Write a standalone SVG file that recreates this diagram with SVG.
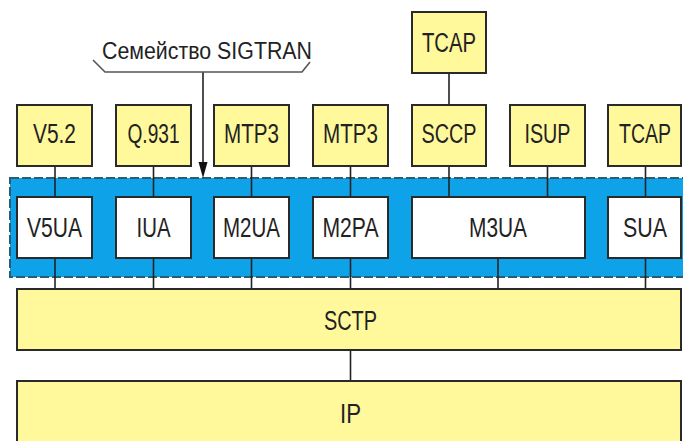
<svg xmlns="http://www.w3.org/2000/svg" width="683" height="441" viewBox="0 0 683 441">
  <style>
    .box { fill: #fff99c; stroke: #2a2a2a; stroke-width: 2; }
    .ua { fill: #ffffff; stroke: #2a2a2a; stroke-width: 2; }
    .lbl { font-family: "Liberation Sans", Arial, sans-serif; font-size: 27px; fill: #222; text-anchor: middle; }
    .title { font-family: "Liberation Sans", Arial, sans-serif; font-size: 23px; fill: #222; }
    .link { stroke: #222; stroke-width: 1.6; fill: none; }
    .brace { stroke: #555; stroke-width: 1.6; fill: none; }
    .head { fill: #111; }
  </style>

  <rect width="683" height="441" fill="#ffffff"/>

  <!-- SIGTRAN band -->
  <g id="sigtran-band">
    <rect x="10" y="178" width="690" height="99" fill="#0ea2e8" stroke="#2d5b70" stroke-width="2" stroke-dasharray="9 3"/>
  </g>

  <!-- connectors -->
  <g id="connectors">
    <line class="link" x1="449" y1="73" x2="449" y2="105"/>
    <line class="link" x1="55" y1="166" x2="55" y2="197"/>
    <line class="link" x1="153.5" y1="166" x2="153.5" y2="197"/>
    <line class="link" x1="251.5" y1="166" x2="251.5" y2="197"/>
    <line class="link" x1="350.5" y1="166" x2="350.5" y2="197"/>
    <line class="link" x1="449" y1="166" x2="449" y2="197"/>
    <line class="link" x1="547.5" y1="166" x2="547.5" y2="197"/>
    <line class="link" x1="645.5" y1="166" x2="645.5" y2="197"/>
    <line class="link" x1="55" y1="258" x2="55" y2="289"/>
    <line class="link" x1="153.5" y1="258" x2="153.5" y2="289"/>
    <line class="link" x1="251.5" y1="258" x2="251.5" y2="289"/>
    <line class="link" x1="350.5" y1="258" x2="350.5" y2="289"/>
    <line class="link" x1="498" y1="258" x2="498" y2="289"/>
    <line class="link" x1="645.5" y1="258" x2="645.5" y2="289"/>
    <line class="link" x1="350.5" y1="350" x2="350.5" y2="381"/>
    <!-- pointer from the family label into the band -->
    <line class="link" x1="203" y1="72" x2="203" y2="164"/>
    <polygon class="head" points="198.5,162 207.5,162 203,178"/>
  </g>

  <!-- family label with brace -->
  <g id="sigtran-label">
    <text class="title" x="102" y="59" textLength="210" lengthAdjust="spacingAndGlyphs">Семейство SIGTRAN</text>
    <polyline class="brace" points="93,60 105,72 302,72 310,62"/>
  </g>

  <!-- upper layer -->
  <g id="tcap-top"><rect class="box" x="412" y="12" width="74" height="61"/><text class="lbl" x="449" y="52" textLength="54" lengthAdjust="spacingAndGlyphs">TCAP</text></g>
  <g id="v52"><rect class="box" x="17" y="105" width="75" height="61"/><text class="lbl" x="54.5" y="143" textLength="43" lengthAdjust="spacingAndGlyphs">V5.2</text></g>
  <g id="q931"><rect class="box" x="116" y="105" width="75" height="61"/><text class="lbl" x="153.5" y="143" textLength="52" lengthAdjust="spacingAndGlyphs">Q.931</text></g>
  <g id="mtp3-a"><rect class="box" x="214" y="105" width="75" height="61"/><text class="lbl" x="251.5" y="143" textLength="55" lengthAdjust="spacingAndGlyphs">MTP3</text></g>
  <g id="mtp3-b"><rect class="box" x="313" y="105" width="75" height="61"/><text class="lbl" x="350.5" y="143" textLength="55" lengthAdjust="spacingAndGlyphs">MTP3</text></g>
  <g id="sccp"><rect class="box" x="412" y="105" width="74" height="61"/><text class="lbl" x="449" y="143" textLength="55" lengthAdjust="spacingAndGlyphs">SCCP</text></g>
  <g id="isup"><rect class="box" x="510" y="105" width="75" height="61"/><text class="lbl" x="547.5" y="143" textLength="46" lengthAdjust="spacingAndGlyphs">ISUP</text></g>
  <g id="tcap-right"><rect class="box" x="608" y="105" width="73" height="61"/><text class="lbl" x="645" y="143" textLength="52" lengthAdjust="spacingAndGlyphs">TCAP</text></g>

  <!-- adaptation layer -->
  <g id="v5ua"><rect class="ua" x="17" y="197" width="75" height="61"/><text class="lbl" x="54.5" y="237" textLength="55" lengthAdjust="spacingAndGlyphs">V5UA</text></g>
  <g id="iua"><rect class="ua" x="116" y="197" width="75" height="61"/><text class="lbl" x="153.5" y="237" textLength="34" lengthAdjust="spacingAndGlyphs">IUA</text></g>
  <g id="m2ua"><rect class="ua" x="214" y="197" width="75" height="61"/><text class="lbl" x="251.5" y="237" textLength="57" lengthAdjust="spacingAndGlyphs">M2UA</text></g>
  <g id="m2pa"><rect class="ua" x="313" y="197" width="75" height="61"/><text class="lbl" x="350.5" y="237" textLength="56" lengthAdjust="spacingAndGlyphs">M2PA</text></g>
  <g id="m3ua"><rect class="ua" x="412" y="197" width="173" height="61"/><text class="lbl" x="498" y="237" textLength="58" lengthAdjust="spacingAndGlyphs">M3UA</text></g>
  <g id="sua"><rect class="ua" x="608" y="197" width="73" height="61"/><text class="lbl" x="645" y="237" textLength="44" lengthAdjust="spacingAndGlyphs">SUA</text></g>

  <!-- transport -->
  <g id="sctp"><rect class="box" x="17" y="289" width="664" height="61"/><text class="lbl" x="350.5" y="330" textLength="53" lengthAdjust="spacingAndGlyphs">SCTP</text></g>
  <g id="ip"><rect class="box" x="17" y="381" width="664" height="70"/><text class="lbl" x="350.5" y="423" textLength="21" lengthAdjust="spacingAndGlyphs">IP</text></g>
</svg>
